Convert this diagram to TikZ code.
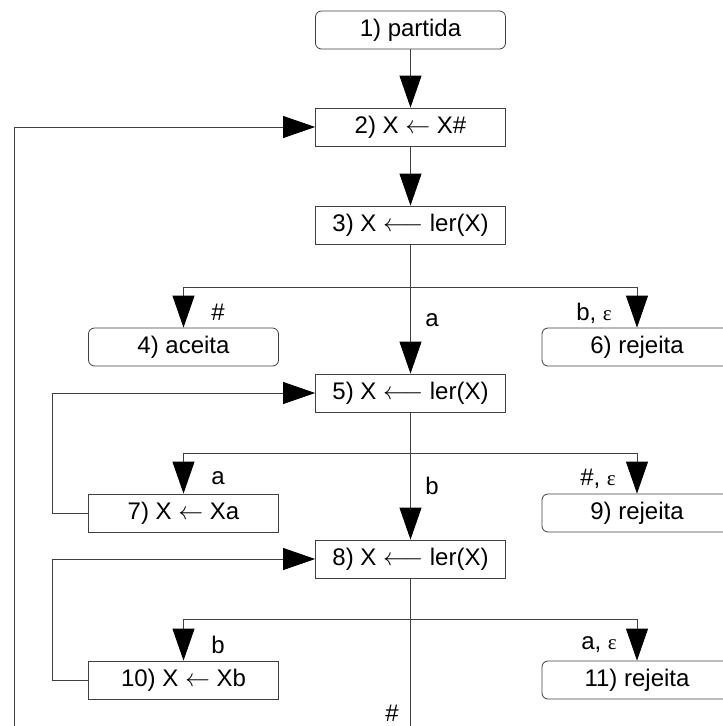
\documentclass[tikz,border=0pt]{standalone}
\usepackage{fontspec}
\setmainfont{Liberation Sans}
\newfontfamily\grk{Liberation Serif}
\usetikzlibrary{arrows.meta}
\begin{document}
\begin{tikzpicture}[x=1pt,y=-1pt,
  every node/.style={font=\fontsize{24}{27}\selectfont},
  box/.style={draw=black!75,line width=0.8pt,minimum width=190pt,minimum height=38pt,inner sep=0pt},
  rbox/.style={box,rounded corners=6pt},
  conn/.style={draw=black!75,line width=0.8pt},
  arr/.style={conn,-{Triangle[length=32pt,width=22pt,fill=black,color=black]}},
  lbl/.style={inner sep=0pt}]
\useasboundingbox (0,0) rectangle (723,726);
% boxes
\node[rbox] (n1) at (410.5,30) {1) partida};
\node[box] (n2) at (410.5,127) {2) X $\leftarrow$ X\#};
\node[box] (n3) at (410.5,225) {3) X $\longleftarrow$ ler(X)};
\node[rbox] (n4) at (183.5,347) {4) aceita};
\node[rbox] (n6) at (637,347) {6) rejeita};
\node[box] (n5) at (410.5,393) {5) X $\longleftarrow$ ler(X)};
\node[box] (n7) at (183.5,513) {7) X $\leftarrow$ Xa};
\node[rbox] (n9) at (637,513) {9) rejeita};
\node[box] (n8) at (410.5,559) {8) X $\longleftarrow$ ler(X)};
\node[box] (n10) at (183.5,680) {10) X $\leftarrow$ Xb};
\node[rbox] (n11) at (637,680) {11) rejeita};
% branch points
\coordinate (b1) at (410.5,287);
\coordinate (b2) at (410.5,453);
\coordinate (b3) at (410.5,619);
\coordinate (bot) at (410.5,726);
\coordinate (l7) at (52,513);
\coordinate (l10) at (52,680);
\coordinate (lbig) at (14,726);
% connectors
\draw[arr] (n1) -- (n2);
\draw[arr] (n2) -- (n3);
\draw[conn] (n3) -- (b1);
\draw[arr] (b1) -| (n4);
\draw[arr] (b1) -| (n6);
\draw[arr] (b1) -- (n5);
\draw[conn] (n5) -- (b2);
\draw[arr] (b2) -| (n7);
\draw[arr] (b2) -| (n9);
\draw[arr] (b2) -- (n8);
\draw[conn] (n8) -- (b3);
\draw[arr] (b3) -| (n10);
\draw[arr] (b3) -| (n11);
\draw[conn] (b3) -- (bot);
\draw[arr] (n7.west) -- (l7) |- (n5.west);
\draw[arr] (n10.west) -- (l10) |- (n8.west);
\draw[arr] (lbig) |- (n2.west);
% labels
\node[lbl] (t1) at (218,312) {\#};
\node[lbl] (t2) at (432,320) {a};
\node[lbl,anchor=east] (t3) at (612,313) {b, {\grk\fontsize{21}{24}\selectfont ε}};
\node[lbl] (t4) at (218,478) {a};
\node[lbl] (t5) at (432,486) {b};
\node[lbl,anchor=east] (t6) at (616,479) {\#, {\grk\fontsize{21}{24}\selectfont ε}};
\node[lbl] (t7) at (218,645) {b};
\node[lbl,anchor=east] (t8) at (617,645) {a, {\grk\fontsize{21}{24}\selectfont ε}};
\node[lbl] (t9) at (392,713) {\#};
\end{tikzpicture}
\end{document}
